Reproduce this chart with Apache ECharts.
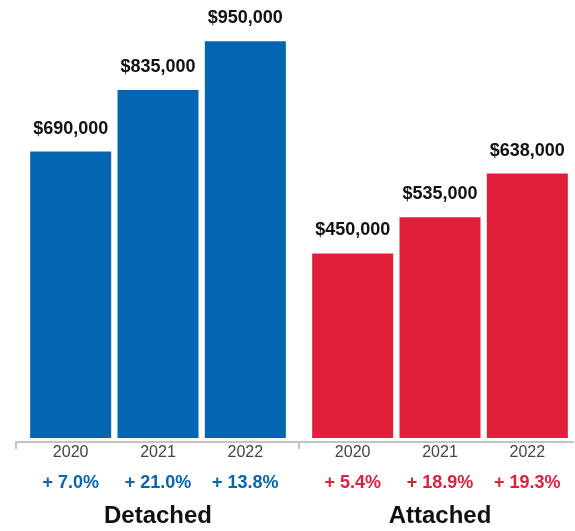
<!DOCTYPE html>
<html>
<head>
<meta charset="UTF-8">
<script src="https://cdn.jsdelivr.net/npm/echarts@6/dist/echarts.min.js"></script>
<title></title>
<style>
  html, body { margin: 0; padding: 0; background: #fff; }
</style>
</head>
<body>
<div id="main" style="width:575px;height:531px"></div>
<script type="text/javascript">
var years = ['2020', '2021', '2022'];
var detachedPrices = [690000, 835000, 950000];
var attachedPrices = [450000, 535000, 638000];
var detachedChange = ['+ 7.0%', '+ 21.0%', '+ 13.8%'];
var attachedChange = ['+ 5.4%', '+ 18.9%', '+ 19.3%'];
var groupNames = ['Detached', 'Attached'];

var blue = '#0466b0';
var red = '#e11f3a';
var font = 'Liberation Sans, Arial, Helvetica, sans-serif';

function money(v) {
    return '$' + v.toLocaleString('en-US');
}

// x axis under each group: year + change in two lines, group name below
function groupAxis(idx, changes, color) {
    return {
        type: 'category',
        gridIndex: idx,
        data: years,
        axisLine: { show: false },
        axisTick: { show: false },
        axisLabel: {
            margin: 0,
            interval: 0,
            formatter: function (val, i) {
                return '{y|' + val + '}\n{p|' + changes[i] + '}';
            },
            rich: {
                y: { fontFamily: font, fontSize: 16, color: '#444', lineHeight: 30 },
                p: { fontFamily: font, fontSize: 18, fontWeight: 'bold', color: color, lineHeight: 30 }
            }
        },
        name: groupNames[idx],
        nameLocation: 'middle',
        nameGap: 66,
        nameTextStyle: { fontFamily: font, fontSize: 24, fontWeight: 'bold', color: '#111' }
    };
}

function valueAxis(idx) {
    return {
        type: 'value',
        gridIndex: idx,
        min: 15000,
        max: 1000000,
        show: false
    };
}

function barSeries(idx, data, color) {
    return {
        type: 'bar',
        xAxisIndex: idx,
        yAxisIndex: idx,
        data: data,
        barWidth: 81,
        itemStyle: { color: color },
        label: {
            show: true,
            position: 'top',
            distance: 14,
            fontFamily: font,
            fontSize: 18,
            fontWeight: 'bold',
            color: '#111',
            formatter: function (p) { return money(p.value); }
        }
    };
}

var myChart = echarts.init(document.getElementById('main'));

var option = {
    animation: false,
    backgroundColor: '#fff',
    grid: [
        { left: 27, width: 262, top: 20, bottom: 93, outerBoundsMode: 'none' },
        { left: 309, width: 262, top: 20, bottom: 93, outerBoundsMode: 'none' },
        // only for the grey base line
        { left: 16, right: 2, bottom: 89, height: 1, outerBoundsMode: 'none' }
    ],
    xAxis: [
        groupAxis(0, detachedChange, blue),
        groupAxis(1, attachedChange, red),
        {
            type: 'value',
            gridIndex: 2,
            min: 0,
            max: 1.97,
            axisLine: { show: true, lineStyle: { color: '#c4c4c4', width: 2 } },
            axisTick: { show: true, customValues: [0, 1], length: 7, lineStyle: { color: '#c4c4c4', width: 2 } },
            axisLabel: { show: false },
            splitLine: { show: false }
        }
    ],
    yAxis: [
        valueAxis(0),
        valueAxis(1),
        { type: 'value', gridIndex: 2, show: false }
    ],
    series: [
        barSeries(0, detachedPrices, blue),
        barSeries(1, attachedPrices, red)
    ]
};

myChart.setOption(option);
</script>
</body>
</html>
